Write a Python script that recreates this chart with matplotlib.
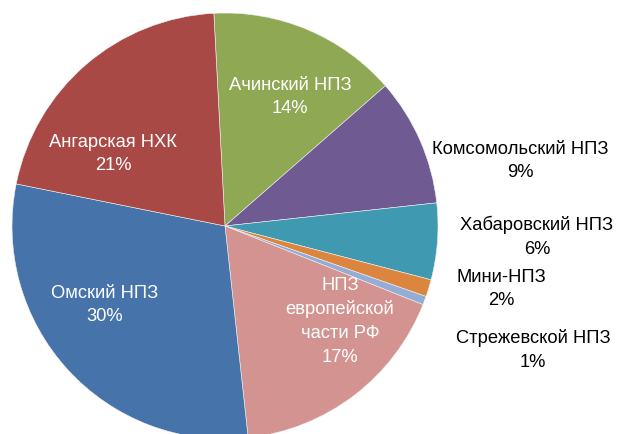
import matplotlib.pyplot as plt

# refinery shares, % (clockwise from the top)
names = ['Ачинский НПЗ', 'Комсомольский НПЗ', 'Хабаровский НПЗ', 'Мини-НПЗ',
         'Стрежевской НПЗ', 'НПЗ\nевропейской\nчасти РФ', 'Омский НПЗ', 'Ангарская НХК']
shares = [14.4, 9.7, 5.8, 1.3, 0.65, 17.25, 29.9, 21.0]
pct_labels = ['14%', '9%', '6%', '2%', '1%', '17%', '30%', '21%']
colors = ['#8EA853', '#6F5A92', '#3F99B1', '#DC853E', '#95ACD5', '#D39391', '#4673A9', '#A94946']
inside = [True, False, False, False, False, True, True, True]

# label centres in pixels (layout only)
label_px = [(290, 97), (520, 161), (537, 237), (501, 289),
            (533, 350), (340, 321), (105, 305), (113, 154)]

W, H = 637, 434
CX, CY, R = 225, 226, 213

plt.rcParams['font.family'] = ['Liberation Sans', 'DejaVu Sans']

fig = plt.figure(figsize=(W / 100, H / 100), dpi=100)
ax = fig.add_axes([0, 0, 1, 1])

ax.pie(shares, colors=colors, startangle=93, counterclock=False,
       wedgeprops=dict(edgecolor='#f2f2f2', linewidth=0.4))

ax.set_aspect('auto')
ax.set_xlim(-CX / R, (W - CX) / R)
ax.set_ylim(-(H - CY) / R, CY / R)
ax.axis('off')

for name, pct, (px, py), ins in zip(names, pct_labels, label_px, inside):
    x = (px - CX) / R
    y = (CY - py) / R
    ax.text(x, y, name + '\n' + pct, ha='center', va='center', fontsize=13.2,
            linespacing=1.5, color='white' if ins else 'black')

plt.savefig('out.png', dpi=100)
